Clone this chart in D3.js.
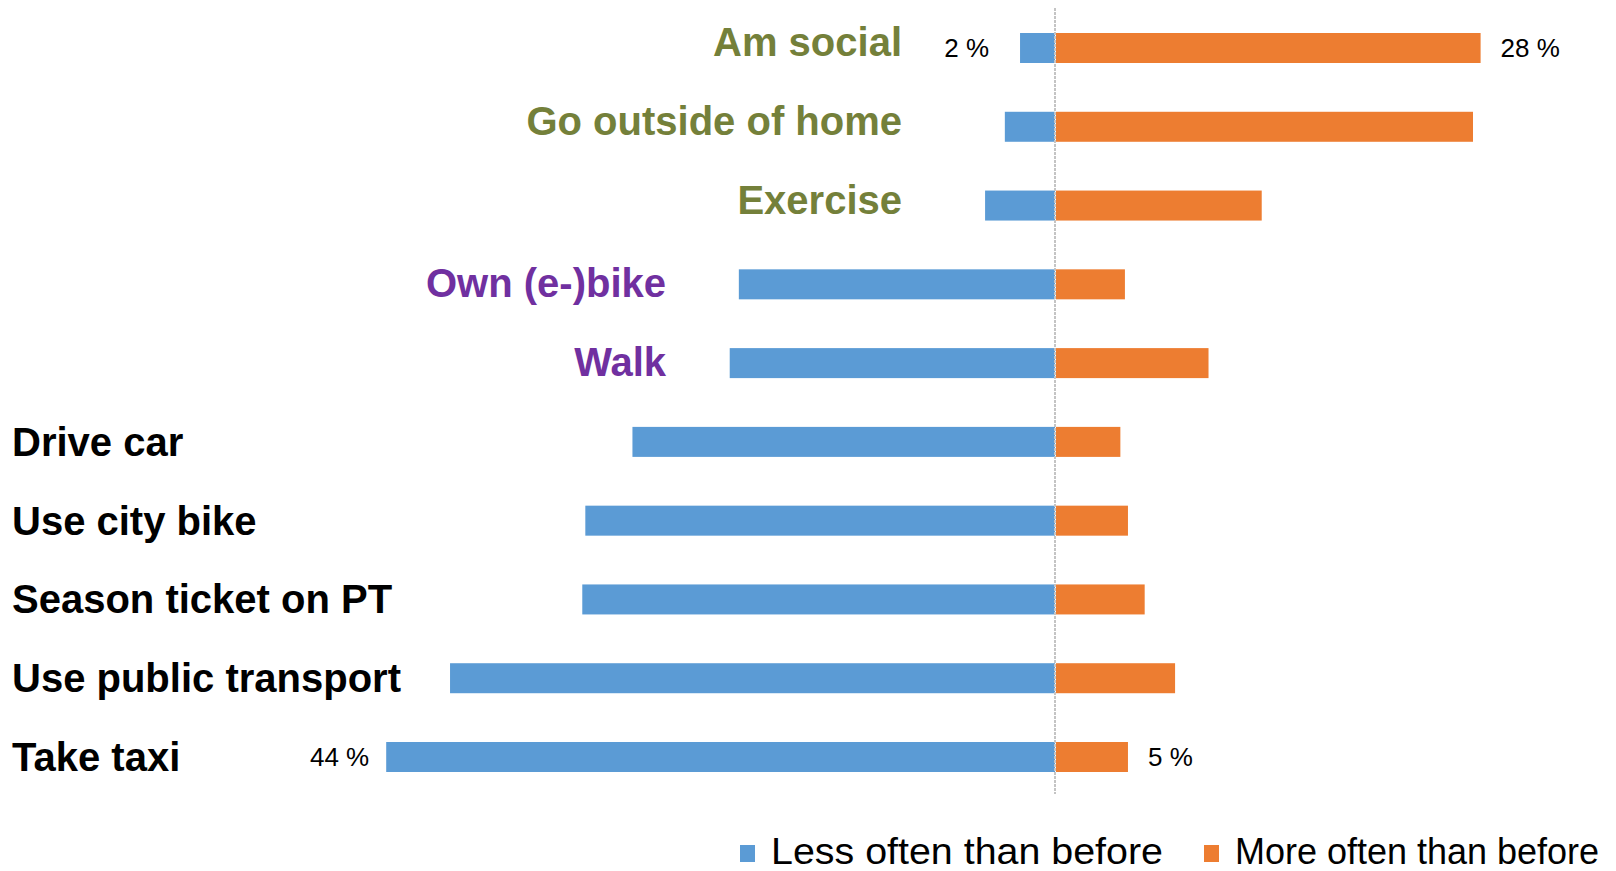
<!DOCTYPE html>
<html lang="en">
<head>
    <meta charset="UTF-8">
    <title>Less / more often than before</title>
    <script src="https://d3js.org/d3.v7.min.js"></script>
</head>
<style>
    body {
     margin: 0;
     background: #fff;
     font-family: "Liberation Sans", Arial, sans-serif;
    }
    .cat { font-weight: bold; font-size: 40px; }
    .val { font-size: 26px; fill: #000; }
    .legend text { font-size: 37px; fill: #000; }
</style>
<body>
    <script type="text/javascript">
        // rows, top to bottom
        var categories = ["Am social", "Go outside of home", "Exercise", "Own (e-)bike", "Walk",
            "Drive car", "Use city bike", "Season ticket on PT", "Use public transport", "Take taxi"];
        // share of respondents (%)
        var lessOften = [2.3, 3.3, 4.6, 20.8, 21.4, 27.8, 30.9, 31.1, 39.8, 44];
        var moreOften = [28, 27.5, 13.6, 4.6, 10.1, 4.3, 4.8, 5.9, 7.9, 4.8];
        // which kind of label each row has
        var rowGroup = ["activity", "activity", "activity", "walkbike", "walkbike",
            "mode", "mode", "mode", "mode", "mode"];
        var labelledRows = ["Am social", "Take taxi"];
        var seriesNames = ["Less often than before", "More often than before"];

        var W = 1616, H = 871;
        var blue = "#5b9bd5", orange = "#ed7d31";

        var svg = d3.select("body").append("svg")
            .attr("width", W)
            .attr("height", H);

        var x = d3.scaleLinear()
            .domain([-50, 50])
            .range([1055 - 760, 1055 + 760]);

        var y = d3.scalePoint()
            .domain(categories)
            .range([48, 757]);

        var barH = 30;

        var data = categories.map(function(c, i) {
            return {cat: c, less: lessOften[i], more: moreOften[i], group: rowGroup[i]};
        });

        // bars
        svg.selectAll(".less")
            .data(data)
            .enter().append("rect")
            .attr("class", "less")
            .attr("x", function(d) { return x(-d.less); })
            .attr("y", function(d) { return y(d.cat) - barH / 2; })
            .attr("width", function(d) { return x(0) - x(-d.less); })
            .attr("height", barH)
            .attr("fill", blue);

        svg.selectAll(".more")
            .data(data)
            .enter().append("rect")
            .attr("class", "more")
            .attr("x", x(0) + 1)
            .attr("y", function(d) { return y(d.cat) - barH / 2; })
            .attr("width", function(d) { return x(d.more) - x(0) - 1; })
            .attr("height", barH)
            .attr("fill", orange);

        // zero line
        svg.append("line")
            .attr("x1", x(0)).attr("x2", x(0))
            .attr("y1", 8).attr("y2", 794)
            .attr("stroke", "#c4c4c4")
            .attr("stroke-width", 2)
            .attr("stroke-dasharray", "3,1");

        // category labels
        var groupStyle = {
            activity: {color: "#74803a", anchor: "end", x: 902, dy: -6},
            walkbike: {color: "#7030a0", anchor: "end", x: 666, dy: -1},
            mode: {color: "#000000", anchor: "start", x: 12, dy: 0}
        };

        svg.selectAll(".cat")
            .data(data)
            .enter().append("text")
            .attr("class", "cat")
            .attr("x", function(d) { return groupStyle[d.group].x; })
            .attr("y", function(d) { return y(d.cat) + 14 + groupStyle[d.group].dy; })
            .attr("text-anchor", function(d) { return groupStyle[d.group].anchor; })
            .attr("fill", function(d) { return groupStyle[d.group].color; })
            .text(function(d) { return d.cat; });

        // value labels
        var labelled = data.filter(function(d) { return labelledRows.indexOf(d.cat) >= 0; });

        svg.selectAll(".val-less")
            .data(labelled)
            .enter().append("text")
            .attr("class", "val")
            .attr("x", function(d) { return x(-d.less) - (d.less < 5 ? 31 : 17); })
            .attr("y", function(d) { return y(d.cat) + 9; })
            .attr("text-anchor", "end")
            .text(function(d) { return Math.round(d.less) + " %"; });

        svg.selectAll(".val-more")
            .data(labelled)
            .enter().append("text")
            .attr("class", "val")
            .attr("x", function(d) { return x(d.more) + 20; })
            .attr("y", function(d) { return y(d.cat) + 9; })
            .attr("text-anchor", "start")
            .text(function(d) { return Math.round(d.more) + " %"; });

        // legend
        var legend = svg.append("g").attr("class", "legend");
        var legendX = [740, 1204], legendW = [392, 364];
        seriesNames.forEach(function(name, i) {
            legend.append("rect")
                .attr("x", legendX[i])
                .attr("y", 845)
                .attr("width", 15)
                .attr("height", 17)
                .attr("fill", i === 0 ? blue : orange);
            legend.append("text")
                .attr("x", legendX[i] + 31)
                .attr("y", 864)
                .attr("textLength", legendW[i])
                .attr("lengthAdjust", "spacingAndGlyphs")
                .text(name);
        });
    </script>
</body>
</html>
